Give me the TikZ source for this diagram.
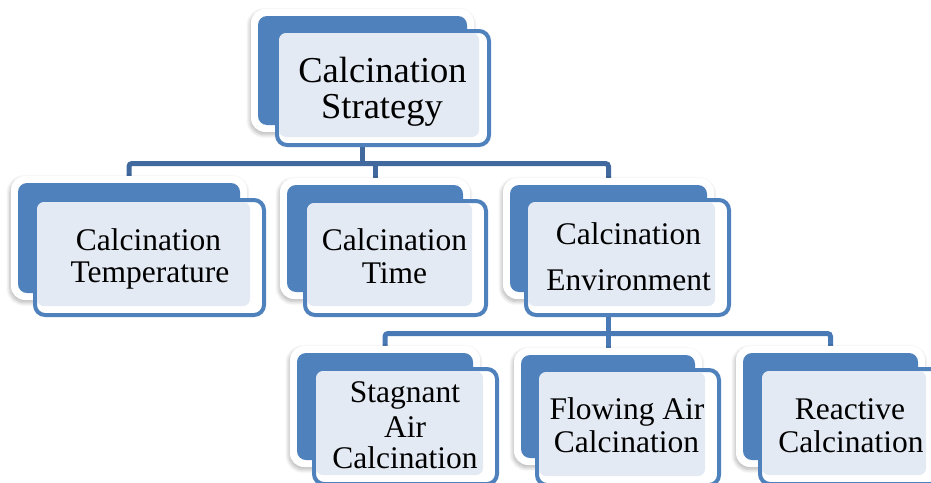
\documentclass[tikz,border=0pt]{standalone}
\usepackage{fontspec}
\setmainfont{Liberation Serif}
\usetikzlibrary{fit,shadows.blur}
\definecolor{accent}{HTML}{4F81BD}
\definecolor{connA}{HTML}{41699E}
\definecolor{connB}{HTML}{4A7AB5}
\definecolor{texfill}{HTML}{E4EAF3}
\pgfdeclarelayer{bg}
\pgfsetlayers{bg,main}
\tikzset{
 backbox/.style={fill=white, rounded corners=14pt, inner sep=0pt, outer sep=0pt,
   blur shadow={shadow xshift=-1pt, shadow yshift=-2.5pt, shadow blur radius=4pt, shadow blur steps=8, shadow opacity=30}},
 backfill/.style={fill=accent, rounded corners=9pt},
 frontbox/.style={draw=accent, line width=4pt, fill=white, rounded corners=10pt, inner sep=0pt, outer sep=0pt},
 texture/.style={fill=texfill, rounded corners=7pt},
 conn1/.style={draw=connA, line width=5pt, rounded corners=3pt},
 conn2/.style={draw=connB, line width=5pt, rounded corners=3pt},
 bigtxt/.style={font=\fontsize{36.5}{40}\selectfont, inner sep=0pt, anchor=base},
 lbl/.style={font=\fontsize{31.5}{34}\selectfont, inner sep=0pt, anchor=base},
}
\newcommand\BackPanel[1]{\fill[backfill] ([shift={(7,7)}]#1.north west) rectangle ([shift={(-7,-7)}]#1.south east);}
\newcommand\FrontTex[1]{\fill[texture] ([shift={(2,2)}]#1.north west) rectangle ([shift={(-14,-9)}]#1.south east);}
\begin{document}
\begin{tikzpicture}[x=1pt,y=-1pt]
\useasboundingbox (0,0) rectangle (931,482);
\clip (0,0) rectangle (931,482);
% top
\node[backbox, fit={(251,9)(474,132)}] (b0) {};
\BackPanel{b0}
\node[frontbox, fit={(277,31)(489,145)}] (f0) {};
\fill[texture] ([shift={(2,2)}]f0.north west) rectangle ([shift={(-10,-8)}]f0.south east);
\node[bigtxt] (t0a) at (382.5,82) {Calcination};
\node[bigtxt] (t0b) at (382,118) {Strategy};
% level 2
\node[backbox, fit={(11,176)(247,300)}] (b1) {};
\BackPanel{b1}
\node[frontbox, fit={(35,200)(264,315)}] (f1) {};
\FrontTex{f1}
\node[lbl] (t1a) at (148.5,250) {Calcination};
\node[lbl] (t1b) at (150,282) {Temperature};

\node[backbox, fit={(280,178)(470,299)}] (b2) {};
\BackPanel{b2}
\node[frontbox, fit={(305,201)(486,315)}] (f2) {};
\FrontTex{f2}
\node[lbl] (t2a) at (394.5,250) {Calcination};
\node[lbl] (t2b) at (394.5,283) {Time};

\node[backbox, fit={(503,178)(714,299)}] (b3) {};
\BackPanel{b3}
\node[frontbox, fit={(526,200)(729,315)}] (f3) {};
\FrontTex{f3}
\node[lbl] (t3a) at (628.5,244) {Calcination};
\node[lbl] (t3b) at (628.5,290) {Environment};
% level 3
\node[backbox, fit={(290,346)(480,467)}] (b4) {};
\BackPanel{b4}
\node[frontbox, fit={(314,369)(497,484)}] (f4) {};
\FrontTex{f4}
\node[lbl] (t4a) at (405,402) {Stagnant};
\node[lbl] (t4b) at (405,437) {Air};
\node[lbl] (t4c) at (405,468) {Calcination};

\node[backbox, fit={(514,348)(702,465)}] (b5) {};
\BackPanel{b5}
\node[frontbox, fit={(537,370)(719,485)}] (f5) {};
\FrontTex{f5}
\node[lbl] (t5a) at (627,419) {Flowing Air};
\node[lbl] (t5b) at (626.5,452) {Calcination};

\node[backbox, fit={(736,346)(925,467)}] (b6) {};
\BackPanel{b6}
\node[frontbox, fit={(760,369)(940,484)}] (f6) {};
\FrontTex{f6}
\node[lbl] (t6a) at (850,419) {Reactive};
\node[lbl] (t6b) at (851,452) {Calcination};
% connectors
\coordinate (bus1) at (0,163.5);
\coordinate (bus2) at (0,333.5);
\begin{pgfonlayer}{bg}
\draw[conn1] (b0.center) -- (b0.center |- bus1);
\draw[conn1] (b1.center) -- (b1.center |- bus1) -- (b3.center |- bus1) -- (b3.center);
\draw[conn1] (b2.center |- bus1) -- (b2.center);
\draw[conn2] (b3.center) -- (b3.center |- bus2);
\draw[conn2] (b4.center) -- (b4.center |- bus2) -- (b6.center |- bus2) -- (b6.center);
\draw[conn2] (b5.center |- bus2) -- (b5.center);
\end{pgfonlayer}
\end{tikzpicture}
\end{document}
